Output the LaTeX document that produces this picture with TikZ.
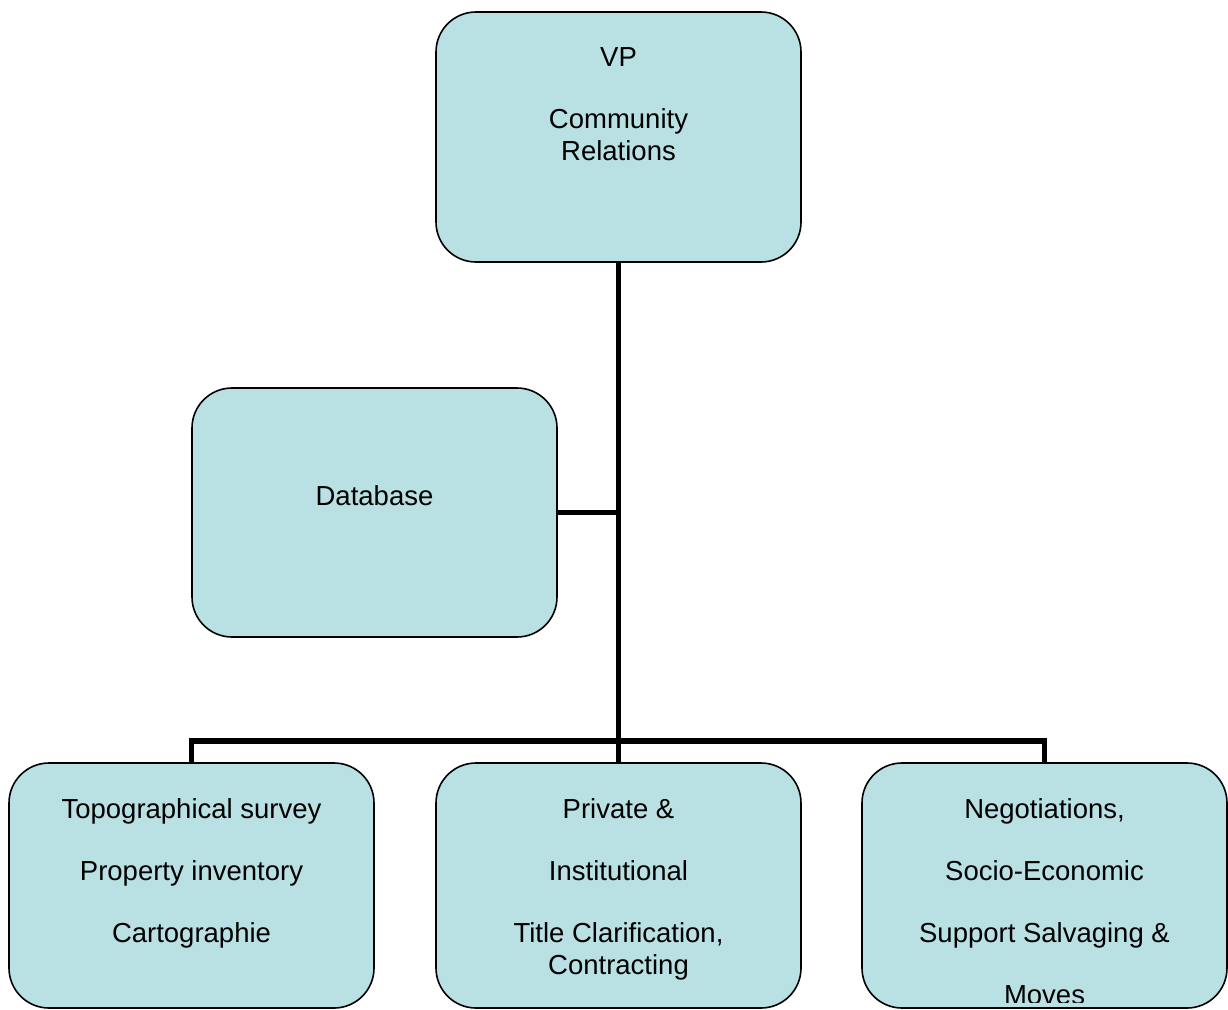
\documentclass[tikz,border=0pt]{standalone}
\usepackage{fontspec}
\setmainfont{Liberation Sans}
\definecolor{boxfill}{RGB}{185,224,227}
\begin{document}
\begin{tikzpicture}[x=1pt,y=-1pt,
  box/.style={draw=black, line width=1.6pt, fill=boxfill, rounded corners=40pt,
              minimum width=365pt, inner sep=0pt, outer sep=0pt},
  txt/.style={anchor=base, inner sep=0pt, font=\fontsize{27.5pt}{32pt}\selectfont},
  link/.style={line width=5.5pt, line join=miter}]
\useasboundingbox (0,0) rectangle (1228,1009);
% boxes
\node[box, minimum height=250pt] (vp) at (618.5,137) {};
\node[box, minimum height=249pt] (db) at (374.5,512.5) {};
\node[box, minimum height=245pt] (b1) at (191.5,885.5) {};
\node[box, minimum height=245pt] (b2) at (618.5,885.5) {};
\node[box, minimum height=245pt] (b3) at (1044.5,885.5) {};
% connectors
\coordinate (hub) at (618.5,741);
\draw[link] (vp.south) -- (b2.north);
\draw[link] (db.east) -- (db.east -| hub);
\draw[link] (b1.north) -- (b1.north |- hub) -- (b3.north |- hub) -- (b3.north);
% texts
\node[txt] (t1) at (618.5,66) {VP};
\node[txt] (t2) at (618.5,128) {Community};
\node[txt] (t3) at (618.5,160) {Relations};
\node[txt] (t4) at (374.5,505) {Database};
\node[txt] (t5) at (191.5,818) {Topographical survey};
\node[txt] (t6) at (191.5,880) {Property inventory};
\node[txt] (t7) at (191.5,942) {Cartographie};
\node[txt] (t8) at (618.5,818) {Private \&};
\node[txt] (t9) at (618.5,880) {Institutional};
\node[txt] (t10) at (618.5,942) {Title Clarification,};
\node[txt] (t11) at (618.5,974) {Contracting};
\node[txt] (t12) at (1044.5,818) {Negotiations,};
\node[txt] (t13) at (1044.5,880) {Socio-Economic};
\node[txt] (t14) at (1044.5,942) {Support Salvaging \&};
\begin{scope}
  \clip (862,763) rectangle (1227,1002);
  \node[txt] (t15) at (1044.5,1004) {Moves};
\end{scope}
\end{tikzpicture}
\end{document}
